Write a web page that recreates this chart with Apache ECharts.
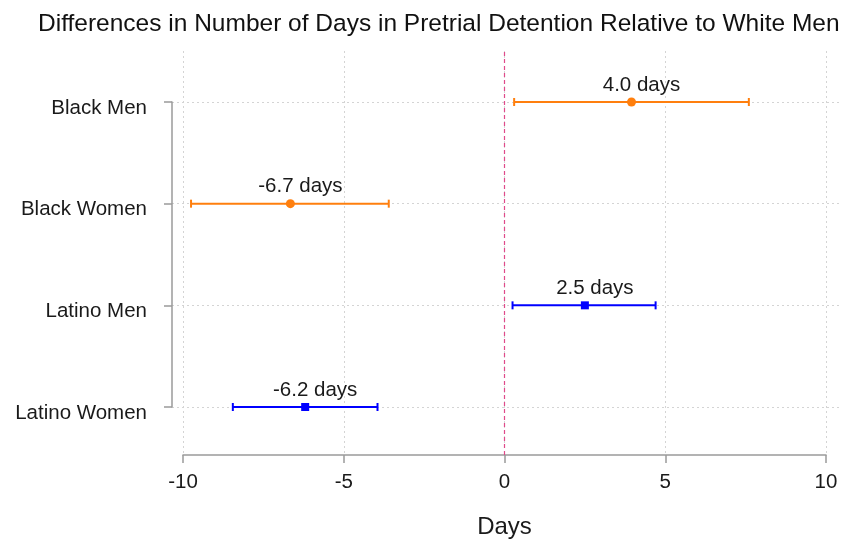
<!DOCTYPE html>
<html><head><meta charset="utf-8">
<script src="https://cdn.jsdelivr.net/npm/echarts@6/dist/echarts.min.js"></script>
<style>html,body{margin:0;padding:0;background:#fff}#c{width:854px;height:544px}</style>
</head><body><div id="c"></div>
<script>
const categories = ['Black Men', 'Black Women', 'Latino Men', 'Latino Women'];
const estimates = [3.95, -6.66, 2.5, -6.2];
const lower = [0.3, -9.75, 0.25, -8.45];
const upper = [7.6, -3.6, 4.7, -3.95];
const labels = ['4.0 days', '-6.7 days', '2.5 days', '-6.2 days'];
const groupColors = ['#ff7f0e', '#ff7f0e', '#0000ff', '#0000ff'];
const symbols = ['circle', 'circle', 'rect', 'rect'];
const xTicks = [-10, -5, 0, 5, 10];

const FONT = '"Liberation Sans", Arial, sans-serif';
const chart = echarts.init(document.getElementById('c'), null, {renderer: 'canvas'});

// layout: main axis grid spans 183..826 px; the row grid is a bit wider
const G0 = {left: 183, right: 28};
const G1 = {left: 172, right: 14};
const xMin = xTicks[0], xMax = xTicks[xTicks.length - 1];
const pxPerUnit = (854 - G0.left - G0.right) / (xMax - xMin);
const x1Min = xMin - (G0.left - G1.left) / pxPerUnit;
const x1Max = xMax + (G0.right - G1.right) / pxPerUnit;

const errData = categories.map((c, i) => [lower[i], upper[i], c, i]);
const ptData = categories.map((c, i) => ({
  value: [estimates[i], c],
  symbol: symbols[i],
  symbolSize: symbols[i] === 'rect' ? 8 : 9,
  itemStyle: {color: groupColors[i], opacity: 1},
  label: {formatter: labels[i]}
}));

chart.setOption({
  animation: false,
  title: {
    text: 'Differences in Number of Days in Pretrial Detention Relative to White Men',
    left: 33, top: 7,
    textStyle: {fontFamily: FONT, fontSize: 24.5, fontWeight: 'normal', color: '#111'}
  },
  grid: [
    {left: G0.left, right: G0.right, top: 51, bottom: 86},
    {left: G1.left, right: G1.right, top: 102, bottom: 137}
  ],
  xAxis: [
    {gridIndex: 0, type: 'value', min: xMin, max: xMax, interval: 5,
     axisLine: {show: true, lineStyle: {color: '#9a9a9a', width: 1.5}},
     axisTick: {show: true, length: 8, lineStyle: {color: '#9a9a9a', width: 1.5}},
     axisLabel: {margin: 17, fontFamily: FONT, fontSize: 20.5, color: '#1a1a1a'},
     splitLine: {show: true, lineStyle: {color: '#d4d4d4', type: [2, 3], width: 1}},
     name: 'Days', nameLocation: 'middle', nameGap: 60,
     nameTextStyle: {fontFamily: FONT, fontSize: 24, color: '#1a1a1a'}},
    {gridIndex: 1, type: 'value', min: x1Min, max: x1Max, show: false}
  ],
  yAxis: [
    {gridIndex: 0, type: 'value', min: 0, max: 1, show: false},
    {gridIndex: 1, type: 'category', data: categories, inverse: true, boundaryGap: false,
     axisLine: {show: true, onZero: false, lineStyle: {color: '#9a9a9a', width: 1.5}},
     axisTick: {show: true, length: 8, inside: false, lineStyle: {color: '#9a9a9a', width: 1.5}},
     axisLabel: {margin: 25, verticalAlign: 'top', lineHeight: 12, fontFamily: FONT, fontSize: 20.5, color: '#1a1a1a'},
     splitLine: {show: true, lineStyle: {color: '#d4d4d4', type: [2, 3], width: 1}}}
  ],
  series: [
    {
      type: 'line', xAxisIndex: 0, yAxisIndex: 0, data: [], silent: true,
      markLine: {symbol: 'none', silent: true, label: {show: false},
        lineStyle: {color: '#e04a8a', type: [4, 3], width: 1.2},
        data: [{xAxis: 0}]}
    },
    {
      type: 'custom', xAxisIndex: 1, yAxisIndex: 1, data: errData,
      renderItem: function (params, api) {
        const a = api.coord([api.value(0), api.value(2)]);
        const b = api.coord([api.value(1), api.value(2)]);
        const col = groupColors[api.value(3)];
        const st = {stroke: col, lineWidth: 2};
        const h = 4;
        return {type: 'group', children: [
          {type: 'line', shape: {x1: a[0], y1: a[1], x2: b[0], y2: b[1]}, style: st},
          {type: 'line', shape: {x1: a[0], y1: a[1] - h, x2: a[0], y2: a[1] + h}, style: st},
          {type: 'line', shape: {x1: b[0], y1: b[1] - h, x2: b[0], y2: b[1] + h}, style: st}
        ]};
      }
    },
    {
      type: 'scatter', xAxisIndex: 1, yAxisIndex: 1, data: ptData, z: 5,
      label: {show: true, position: 'top', distance: 2, offset: [10, 0],
        fontFamily: FONT, fontSize: 20.5, color: '#1a1a1a'}
    }
  ]
});
</script>
</body></html>
